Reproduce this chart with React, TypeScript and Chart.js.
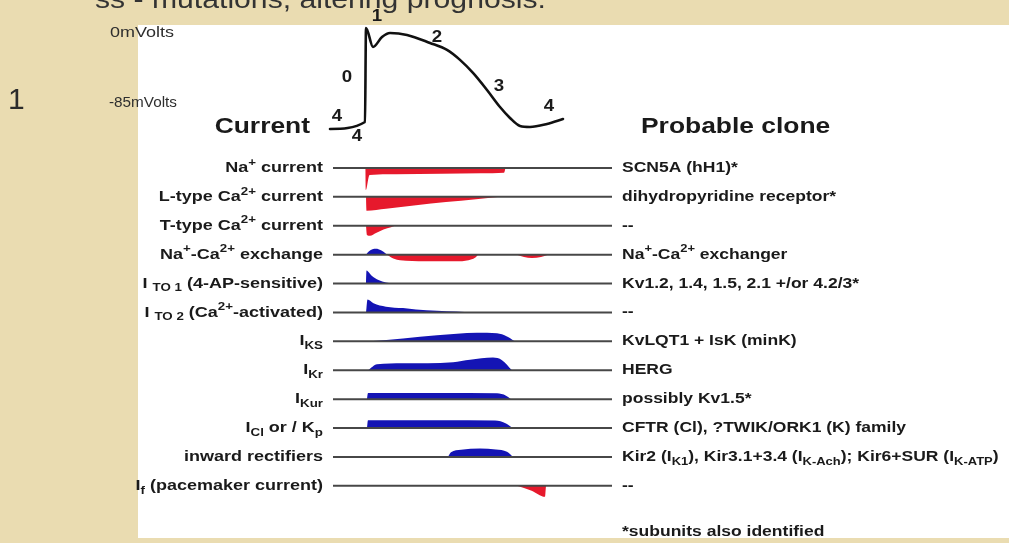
import React, { useEffect, useRef } from "react";
import { Chart, registerables } from "chart.js";

Chart.register(...registerables);

// ---------------- data ----------------
const TITLE_TEXT = "ss - mutations, altering prognosis.";
const SLIDE_NUMBER = "1";
const VOLT_LABELS = ["0mVolts", "-85mVolts"];
const LEFT_HEADER = "Current";
const RIGHT_HEADER = "Probable clone";
const FOOTNOTE = "*subunits also identified";

// action potential: time (ms) and membrane voltage (mV)
const AP_TIME = [-72, -2, 0, 14, 32, 48, 82, 128, 162, 188, 214, 242, 268, 288, 308, 328, 362, 394];
const AP_MV = [-89.5, -81.6, 25, 3.5, 14.7, 19.3, 17.1, 8.0, 0.1, -11.2, -26.0, -45.3, -64.6, -77.0, -86.1, -87.2, -83.8, -78.2];

// phase numbers: text, time (ms), voltage (mV)
const PHASE_TEXT = ["1", "2", "0", "3", "4", "4", "4"];
const PHASE_TIME = [22, 142, -38, 266, 366, -58, -18];
const PHASE_MV = [38, 14.7, -30.6, -40.8, -63.5, -74.8, -97.5];

// current rows
const ROW_LABELS = [
  "Na^{+} current",
  "L-type Ca^{2+} current",
  "T-type Ca^{2+} current",
  "Na^{+}-Ca^{2+} exchange",
  "I _{TO 1} (4-AP-sensitive)",
  "I _{TO 2} (Ca^{2+}-activated)",
  "I_{KS}",
  "I_{Kr}",
  "I_{Kur}",
  "I_{Cl} or / K_{p}",
  "inward rectifiers",
  "I_{f} (pacemaker current)",
];
const CLONE_LABELS = [
  "SCN5A (hH1)*",
  "dihydropyridine receptor*",
  "--",
  "Na^{+}-Ca^{2+} exchanger",
  "Kv1.2, 1.4, 1.5, 2.1 +/or 4.2/3*",
  "--",
  "KvLQT1 + IsK (minK)",
  "HERG",
  "possibly Kv1.5*",
  "CFTR (Cl), ?TWIK/ORK1 (K) family",
  "Kir2 (I_{K1}), Kir3.1+3.4 (I_{K-Ach}); Kir6+SUR (I_{K-ATP})",
  "--",
];

// baseline time span (ms)
const LINE_SPAN = [-66, 492];

// currents: [time ms, amplitude a.u.]; negative = inward, positive = outward
const NA_CURRENT = [[-1.5, 0], [-0.5, -7.6], [7, -2.4], [60, -2.2], [150, -2.0], [230, -1.85], [276, -1.7], [279, 0]];
const L_CA_CURRENT = [[0, 0], [1, -4.8], [40, -4.1], [100, -2.9], [160, -1.8], [220, -0.8], [268, 0]];
const T_CA_CURRENT = [[0, 0], [2, -3.2], [8, -3.5], [20, -2.5], [35, -1.3], [50, -0.5], [58, 0]];
const NCX_OUTWARD = [[0, 0], [6, 1.2], [20, 2.0], [30, 1.5], [40, 0.3], [42, 0]];
const NCX_INWARD = [[42, 0], [56, -1.4], [80, -2.1], [130, -2.3], [180, -2.3], [205, -1.9], [218, -1.1], [224, 0]];
const NCX_INWARD_LATE = [[302, 0], [316, -0.8], [332, -1.15], [350, -0.8], [364, 0]];
const ITO1_CURRENT = [[0, 0], [1, 4.5], [4, 4.2], [12, 2.6], [25, 1.2], [40, 0.4], [58, 0]];
const ITO2_CURRENT = [[0, 0], [3, 4.5], [15, 3.2], [40, 2.0], [74, 1.5], [100, 1.0], [142, 0.6], [180, 0.3], [214, 0]];
const IKS_CURRENT = [[8, 0], [74, 1.0], [142, 2.1], [222, 3.0], [262, 2.8], [282, 1.7], [298, 0]];
const IKR_CURRENT = [[4, 0], [22, 2.1], [74, 2.4], [174, 2.8], [208, 3.6], [254, 4.4], [272, 3.5], [292, 0]];
const IKUR_CURRENT = [[2, 0], [4, 2.1], [150, 2.1], [262, 2.0], [280, 1.2], [290, 0]];
const ICL_CURRENT = [[2, 0], [4, 2.7], [150, 2.7], [258, 2.6], [280, 1.6], [294, 0]];
const IK1_CURRENT = [[164, 0], [170, 1.6], [190, 2.5], [228, 2.9], [260, 2.6], [282, 1.8], [294, 0]];
const IF_CURRENT = [[302, 0], [330, -1.6], [358, -3.8], [360, 0]];

const CURRENT_ROWS = [0, 1, 2, 3, 3, 3, 4, 5, 6, 7, 8, 9, 10, 11];
const CURRENT_TRACES = [
  NA_CURRENT, L_CA_CURRENT, T_CA_CURRENT, NCX_OUTWARD, NCX_INWARD, NCX_INWARD_LATE,
  ITO1_CURRENT, ITO2_CURRENT, IKS_CURRENT, IKR_CURRENT, IKUR_CURRENT, ICL_CURRENT, IK1_CURRENT, IF_CURRENT,
];

// ---------------- styles ----------------
const W = 1009;
const H = 543;
const BEIGE = "#eadcb1";
const RED = "#e6192c";
const BLUE = "#1414b4";
const LINE_GRAY = "#474747";
const TEXT = "#1a1a1a";
const FONT = '"Liberation Sans", Arial, Helvetica, sans-serif';
const ROW_SPACING = 10;

type Seg = { t: string; k: "n" | "sup" | "sub"; w?: number };

function parseRich(s: string): Seg[] {
  const out: Seg[] = [];
  const re = /(\^\{[^}]*\}|_\{[^}]*\})/g;
  let last = 0;
  let m: RegExpExecArray | null;
  while ((m = re.exec(s))) {
    if (m.index > last) out.push({ t: s.slice(last, m.index), k: "n" });
    out.push({ t: m[0].slice(2, -1), k: m[0][0] === "^" ? "sup" : "sub" });
    last = m.index + m[0].length;
  }
  if (last < s.length) out.push({ t: s.slice(last), k: "n" });
  return out;
}

function drawRich(
  ctx: CanvasRenderingContext2D,
  s: string,
  x: number,
  y: number,
  opt: { size: number; weight?: string; align?: string; sx?: number; color?: string; baseline?: CanvasTextBaseline }
) {
  const { size, weight = "bold", align = "left", sx = 1.2, color = TEXT, baseline = "middle" } = opt;
  const segs = parseRich(s);
  const small = size * 0.74;
  let w = 0;
  for (const g of segs) {
    ctx.font = `${weight} ${g.k === "n" ? size : small}px ${FONT}`;
    g.w = ctx.measureText(g.t).width;
    w += g.w;
  }
  const x0 = align === "right" ? x - w * sx : align === "center" ? x - (w * sx) / 2 : x;
  ctx.save();
  ctx.translate(x0, y);
  ctx.scale(sx, 1);
  ctx.fillStyle = color;
  ctx.textBaseline = baseline;
  ctx.textAlign = "left";
  let cx = 0;
  for (const g of segs) {
    ctx.font = `${weight} ${g.k === "n" ? size : small}px ${FONT}`;
    const dy = g.k === "sup" ? -size * 0.36 : g.k === "sub" ? size * 0.32 : 0;
    ctx.fillText(g.t, cx, dy);
    cx += g.w || 0;
  }
  ctx.restore();
}

const backgroundPlugin = {
  id: "bg",
  beforeDraw(chart: any) {
    const ctx = chart.ctx as CanvasRenderingContext2D;
    ctx.save();
    ctx.fillStyle = BEIGE;
    ctx.fillRect(0, 0, W, H);
    ctx.fillStyle = "#ffffff";
    ctx.fillRect(138, 25, W - 138, 538 - 25);
    ctx.restore();
  },
};

const textPlugin = {
  id: "texts",
  afterDraw(chart: any) {
    const ctx = chart.ctx as CanvasRenderingContext2D;
    const xs = chart.scales.x;
    const yAP = chart.scales.yAP;
    const yCur = chart.scales.yCur;

    drawRich(ctx, TITLE_TEXT, 95, 8, { size: 26, weight: "normal", sx: 1.16, color: "#333", baseline: "alphabetic" });
    drawRich(ctx, SLIDE_NUMBER, 8, 101, { size: 30, weight: "normal", sx: 1, color: "#2b2b2b" });
    drawRich(ctx, VOLT_LABELS[0], 174, 33, { size: 15, weight: "normal", sx: 1.2, align: "right", color: "#2e2e2e" });
    drawRich(ctx, VOLT_LABELS[1], 177, 103, { size: 15, weight: "normal", sx: 1.02, align: "right", color: "#2e2e2e" });

    drawRich(ctx, LEFT_HEADER, 310, 127, { size: 22, align: "right", sx: 1.2 });
    drawRich(ctx, RIGHT_HEADER, 641, 127, { size: 22, align: "left", sx: 1.2 });

    PHASE_TEXT.forEach((t, i) => {
      drawRich(ctx, t, xs.getPixelForValue(PHASE_TIME[i]), yAP.getPixelForValue(PHASE_MV[i]), {
        size: 17, align: "center", sx: 1.1,
      });
    });

    const xl = xs.getPixelForValue(LINE_SPAN[0]) - 10;
    const xr = xs.getPixelForValue(LINE_SPAN[1]) + 10;
    ROW_LABELS.forEach((lab, i) => {
      const y = yCur.getPixelForValue(-ROW_SPACING * i);
      drawRich(ctx, lab, xl, y, { size: 15, align: "right", sx: 1.2 });
      drawRich(ctx, CLONE_LABELS[i], xr, y, { size: 14.6, align: "left", sx: 1.2 });
    });

    drawRich(ctx, FOOTNOTE, xr, 532, { size: 14.6, align: "left", sx: 1.2 });
  },
};

export default function App() {
  const ref = useRef<HTMLCanvasElement | null>(null);

  useEffect(() => {
    if (!ref.current) return;
    const datasets: any[] = [];

    ROW_LABELS.forEach((_, i) => {
      const base = -ROW_SPACING * i;
      datasets.push({
        data: LINE_SPAN.map((t) => ({ x: t, y: base })),
        yAxisID: "yCur",
        borderColor: LINE_GRAY,
        borderWidth: 2,
        pointRadius: 0,
        fill: false,
        order: 0,
      });
    });

    CURRENT_TRACES.forEach((pts, k) => {
      const base = -ROW_SPACING * CURRENT_ROWS[k];
      const inward = pts.some((p) => p[1] < 0);
      datasets.push({
        data: pts.map(([t, a]) => ({ x: t, y: base + a })),
        yAxisID: "yCur",
        borderColor: "transparent",
        borderWidth: 0,
        backgroundColor: inward ? RED : BLUE,
        fill: { value: base },
        pointRadius: 0,
        cubicInterpolationMode: "monotone",
        order: 1,
      });
    });

    datasets.push({
      data: AP_TIME.map((t, i) => ({ x: t, y: AP_MV[i] })),
      yAxisID: "yAP",
      borderColor: "#111111",
      borderWidth: 2.6,
      pointRadius: 0,
      fill: false,
      cubicInterpolationMode: "monotone",
      borderJoinStyle: "round",
      borderCapStyle: "round",
      order: 0,
    });

    const chart = new Chart(ref.current, {
      type: "line",
      data: { datasets },
      options: {
        animation: false,
        responsive: false,
        events: [],
        layout: { padding: { left: 328, right: W - 616, top: 20, bottom: H - 500 } },
        scales: {
          x: { type: "linear", min: -76, max: 500, display: false },
          yAP: { type: "linear", min: -510, max: 34, display: false },
          yCur: { type: "linear", min: -114.9, max: 51.2, display: false },
        },
        plugins: {
          legend: { display: false },
          tooltip: { enabled: false },
        },
      } as any,
      plugins: [backgroundPlugin, textPlugin],
    });
    return () => chart.destroy();
  }, []);

  return (
    <div style={{ position: "fixed", left: 0, top: 0, width: W, height: H, overflow: "hidden", background: BEIGE }}>
      <canvas ref={ref} width={W} height={H} style={{ display: "block", width: W, height: H }} />
    </div>
  );
}
